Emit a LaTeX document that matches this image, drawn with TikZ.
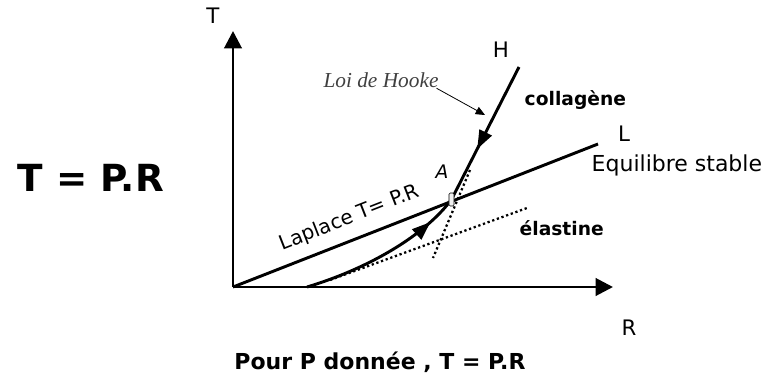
\documentclass[tikz,border=0pt]{standalone}
\usepackage{fontspec}
\setmainfont{DejaVu Sans}
\newfontfamily\hookefont{Liberation Serif}
\usetikzlibrary{arrows.meta, positioning, decorations.markings}

\begin{document}
\begin{tikzpicture}[
  x=0.75pt, y=-0.75pt,
  axis/.style={line width=2.2pt, -{Triangle[length=13pt,width=13pt]}},
  curve/.style={line width=2.2pt},
  tang/.style={line width=1.7pt, dotted},
  midarrow/.style={postaction={decorate}, decoration={markings,
    mark=at position #1 with {\arrow{Triangle[length=14pt,width=10pt]}}}},
  axlbl/.style={font=\fontsize{16}{18}\selectfont},
  curvlbl/.style={font=\bfseries\fontsize{14}{16}\selectfont},
  amark/.style={draw, line width=0.5pt, fill=gray!12, rounded corners=1pt,
    minimum width=3.8pt, minimum height=9.8pt, inner sep=0pt}
]
\useasboundingbox (0,0) rectangle (776,376);

% axes
\coordinate (O) at (233,287);
\coordinate (Ttip) at (233,31);
\coordinate (Rtip) at (613,287);
\draw[axis] (O) -- (Ttip);
\draw[axis] (O) -- (Rtip);
\node[axlbl] (Tlbl) at (213,16) {T};
\node[axlbl] (Rlbl) at (629,328) {R};

% points
\coordinate (A) at (451.5,199.5);
\coordinate (Lend) at (598,144);
\coordinate (Htop) at (519,67);
\coordinate (Estart) at (307,287);

% droite de Laplace
\draw[curve] (O) -- (Lend);
\node[axlbl] (Llbl) at (624,134) {L};
\node[font=\fontsize{16.5}{19}\selectfont, anchor=west] (equil) at (587,165) {Equilibre stable};
\node[font=\fontsize{15}{17}\selectfont, rotate=21.4, anchor=south] (laplace) at (355,231.5) {Laplace T= P.R};

% tangentes en pointilles
\draw[tang] (330,280) -- (527,208);
\draw[tang] (470,170) -- (433,258);

% collagene et elastine
\draw[curve, midarrow=0.62] (Htop) -- (A);
\draw[curve, midarrow=0.82] (Estart) .. controls (370,268) and (425,235) .. (A);
\node[axlbl] (Hlbl) at (501,50) {H};
\node[curvlbl, anchor=west] (coll) at (520,100) {collagène};
\node[curvlbl, anchor=west] (elast) at (515,228) {élastine};

% point A
\node[amark] (Abox) at (A) {};
\node[font=\itshape\fontsize{14}{16}\selectfont] (Alabel) at (442,172) {A};

% loi de Hooke
\node[font=\hookefont\itshape\fontsize{16}{18}\selectfont, text=black!75] (hooke) at (381,80) {Loi de Hooke};
\coordinate (hk) at (485,115);
\draw[line width=0.6pt, -{Triangle[length=7pt,width=6pt]}] ([xshift=-5pt,yshift=3pt]hooke.south east) -- (hk);

% formules
\node[font=\bfseries\fontsize{28}{32}\selectfont, anchor=west] (formula) at (13,178) {T = P.R};
\node[font=\bfseries\fontsize{16.5}{19}\selectfont] (caption) at (380,362) {Pour P donnée , T = P.R};

\end{tikzpicture}
\end{document}
